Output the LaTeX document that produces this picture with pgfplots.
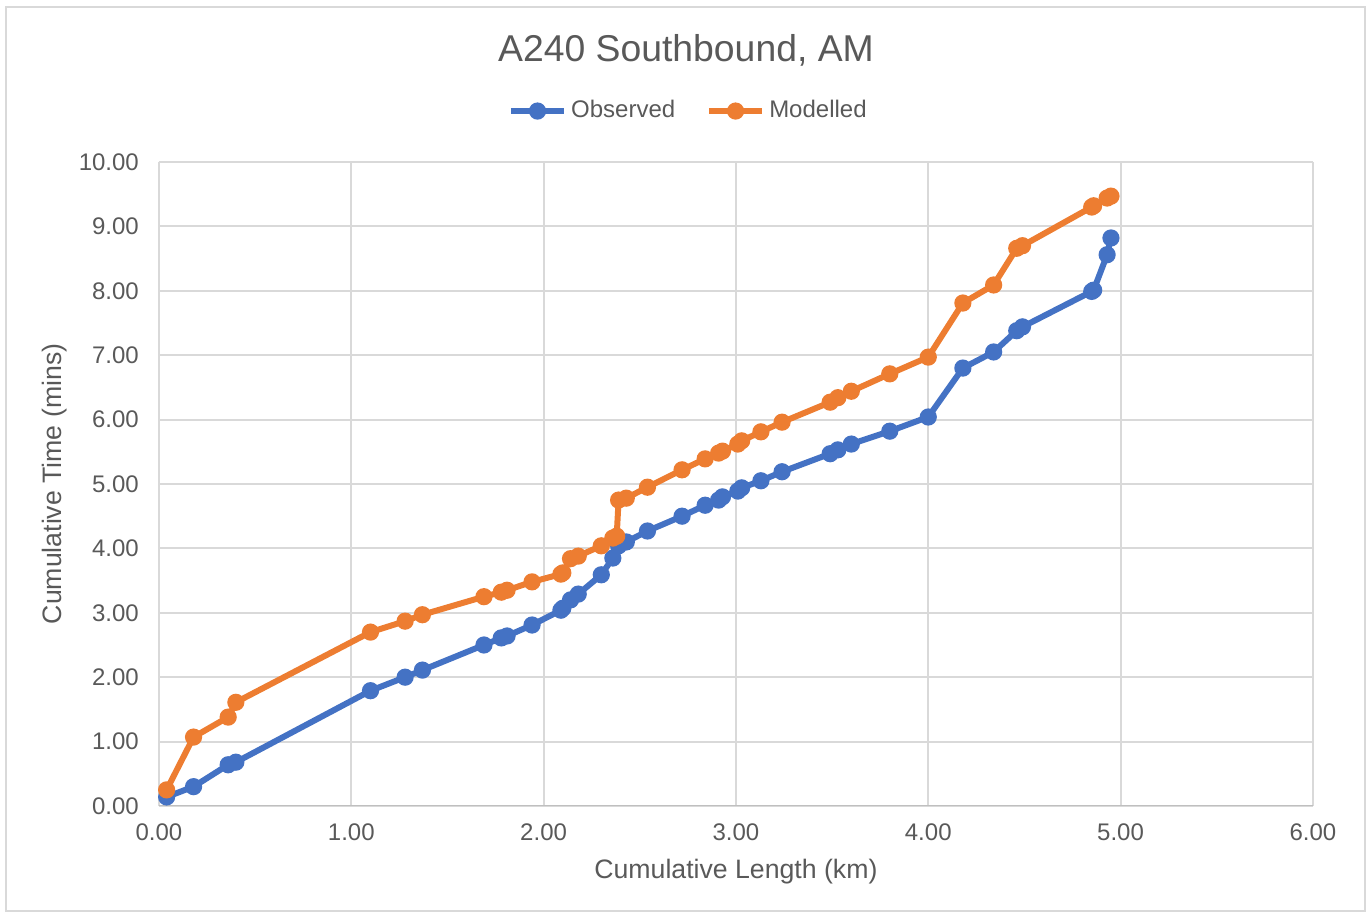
\documentclass[border=0pt]{standalone}
\usepackage{pgfplots}
\pgfplotsset{compat=1.18}
\usepackage{fontspec}
\setmainfont{Liberation Sans}
\definecolor{obs}{HTML}{4472C4}
\definecolor{mod}{HTML}{ED7D31}
\definecolor{txt}{HTML}{595959}
\definecolor{grd}{HTML}{D9D9D9}
\definecolor{axl}{HTML}{BFBFBF}
\begin{document}
\begin{tikzpicture}
\path[use as bounding box] (0,0) rectangle (514.5pt,344.25pt);
\draw[grd, line width=0.75pt] (2.25pt,2.6pt) rectangle (511.9pt,341.6pt);
\node[anchor=center, text=txt, font=\fontsize{14}{16}\selectfont] at (257.25pt,325.5pt) {A240 Southbound, AM};
\begin{axis}[
  at={(59.6pt,42pt)}, anchor=south west,
  scale only axis, width=432.75pt, height=241.5pt,
  xmin=0, xmax=6, ymin=0, ymax=10,
  xtick={0,1,...,6}, ytick={0,1,...,10},
  grid=major, major grid style={grd, line width=0.75pt},
  axis line style={draw=none},
  major tick length=0pt,
  tick label style={text=txt, font=\fontsize{9}{11}\selectfont},
  /pgf/number format/assume math mode=true,
  /pgf/number format/.cd, fixed, fixed zerofill, precision=2, /pgfplots/.cd,
  yticklabel style={xshift=-4pt},
  xticklabel style={yshift=-3pt},
  xlabel={Cumulative Length (km)}, ylabel={Cumulative Time (mins)},
  label style={text=txt, font=\fontsize{10}{12}\selectfont},
  xlabel style={at={(axis description cs:0.5,-0.1025)}, anchor=center},
  ylabel style={at={(axis description cs:-0.0901,0.5)}, anchor=center},
  legend style={draw=none, fill=none, at={(0.5,1)}, anchor=center, xshift=-17.5pt, yshift=19.1pt,
    font=\fontsize{9}{11}\selectfont, text=txt, legend columns=2,
    nodes={inner xsep=1.5pt},
    /tikz/every even column/.append style={column sep=10pt}},
  legend image code/.code={\draw[mark repeat=2,mark phase=2,#1] plot coordinates {(0pt,0pt) (10pt,0pt) (20pt,0pt)};},
  every axis plot/.append style={line width=2.25pt, mark=*, mark size=2.85pt, mark options={solid, line width=0.75pt}},
]
\addplot[obs] coordinates {
(0.04,0.14) (0.18,0.30) (0.36,0.64) (0.40,0.68) (1.10,1.79) (1.28,2.00) (1.37,2.11)
(1.69,2.50) (1.78,2.61) (1.81,2.64) (1.94,2.81) (2.09,3.04) (2.10,3.07) (2.14,3.20)
(2.18,3.29) (2.30,3.59) (2.36,3.85) (2.39,4.04) (2.43,4.10) (2.54,4.27) (2.72,4.50)
(2.84,4.67) (2.91,4.75) (2.93,4.80) (3.01,4.89) (3.03,4.94) (3.13,5.05) (3.24,5.19)
(3.49,5.47) (3.53,5.53) (3.60,5.62) (3.80,5.82) (4.00,6.04) (4.18,6.80) (4.34,7.05)
(4.46,7.38) (4.49,7.44) (4.85,7.99) (4.86,8.01) (4.93,8.56) (4.95,8.82)
};
\addlegendentry{Observed}
\addplot[mod] coordinates {
(0.04,0.25) (0.18,1.07) (0.36,1.38) (0.40,1.61) (1.10,2.70) (1.28,2.87) (1.37,2.97)
(1.69,3.25) (1.78,3.32) (1.81,3.35) (1.94,3.48) (2.09,3.60) (2.10,3.62) (2.14,3.84)
(2.18,3.88) (2.30,4.04) (2.36,4.16) (2.38,4.19) (2.39,4.75) (2.43,4.78) (2.54,4.95)
(2.72,5.22) (2.84,5.39) (2.91,5.48) (2.93,5.51) (3.01,5.62) (3.03,5.67) (3.13,5.81)
(3.24,5.96) (3.49,6.27) (3.53,6.34) (3.60,6.44) (3.80,6.71) (4.00,6.97) (4.18,7.81)
(4.34,8.09) (4.46,8.66) (4.49,8.70) (4.85,9.30) (4.86,9.32) (4.93,9.44) (4.95,9.47)
};
\addlegendentry{Modelled}
\draw[axl, line width=0.75pt] (rel axis cs:0,0) -- (rel axis cs:1,0);
\end{axis}
\end{tikzpicture}
\end{document}
